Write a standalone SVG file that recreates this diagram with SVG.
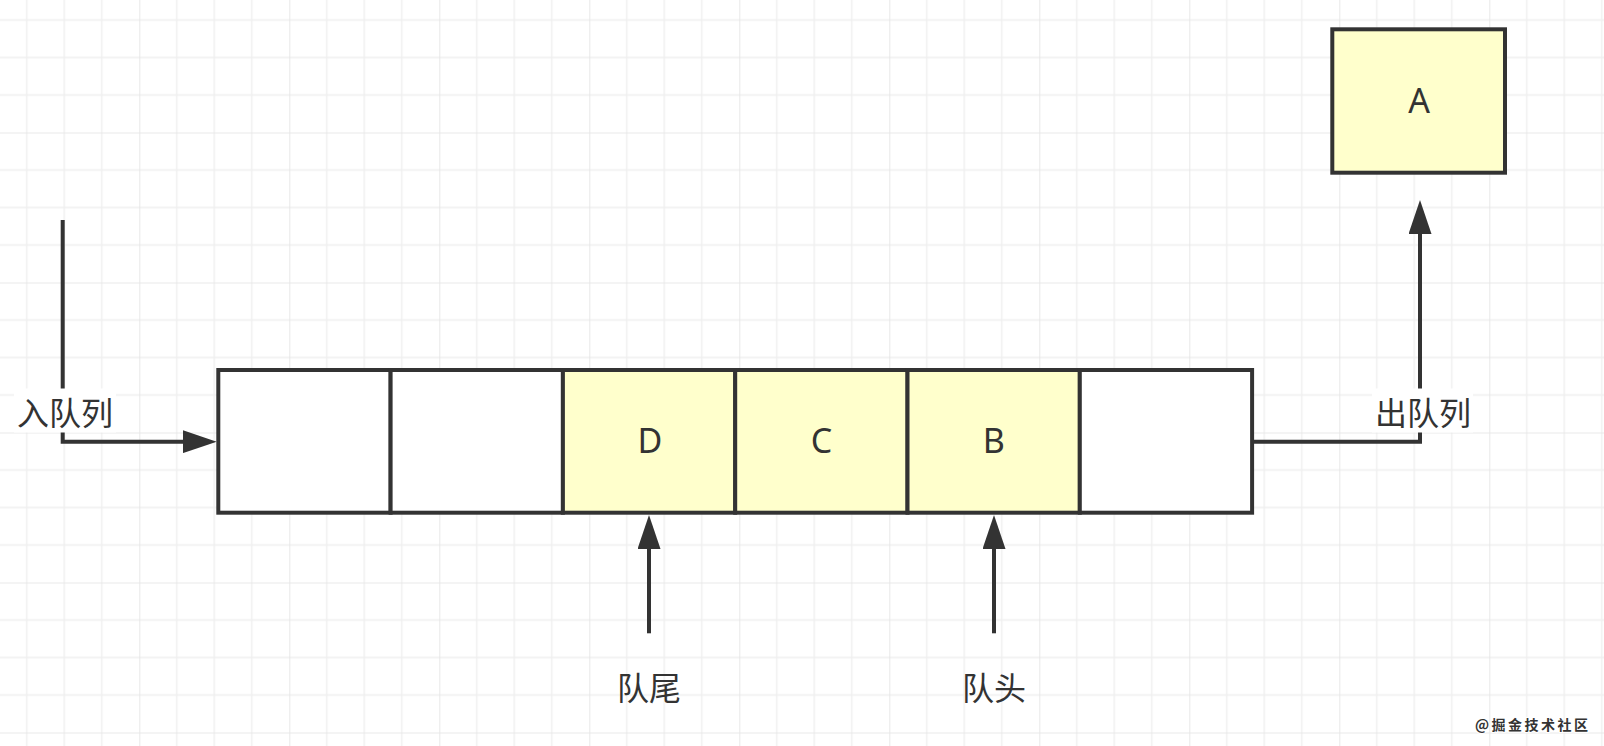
<svg xmlns="http://www.w3.org/2000/svg" width="1604" height="746" viewBox="0 0 1604 746">
  <defs>
    <pattern id="grid" patternUnits="userSpaceOnUse" x="139.3" y="132.5" width="150" height="150">
      <path d="M37.5 0V150M75 0V150M112.5 0V150M0 37.5H150M0 75H150M0 112.5H150" stroke="#efefef" stroke-width="1.4" fill="none"/>
      <path d="M0 0V150M0 0H150" stroke="#e4e4e4" stroke-width="1.7" fill="none"/>
    </pattern>
    <marker id="arrow" markerUnits="userSpaceOnUse" viewBox="0 0 34 23" refX="24" refY="11.5" markerWidth="34" markerHeight="23" orient="auto">
      <path d="M0 0L34 11.5L0 23Z" fill="#333333"/>
    </marker>
    <style>
      .cell { stroke: #333333; stroke-width: 4; }
      .empty { fill: #ffffff; }
      .filled { fill: #ffffcc; }
      .letter { font-family: "Noto Sans", "Open Sans", sans-serif; font-size: 34px; fill: #333333; text-anchor: middle; }
      .cjk { font-family: "Noto Sans CJK SC", "Noto Sans", sans-serif; font-size: 32px; fill: #333333; text-anchor: middle; dominant-baseline: central; }
      .conn { stroke: #333333; stroke-width: 4; fill: none; }
      .lblbg { fill: #ffffff; }
      .wm { font-family: "Noto Sans CJK SC", sans-serif; font-size: 14px; font-weight: bold; letter-spacing: 2.5px; fill: #333333; stroke: #ffffff; stroke-width: 2; paint-order: stroke; }
    </style>
  </defs>

  <rect x="0" y="0" width="1604" height="746" fill="#ffffff"/>
  <rect x="0" y="0" width="1604" height="746" fill="url(#grid)"/>

  <g id="connectors">
    <path class="conn" d="M62.7 220V441.7H206.7" marker-end="url(#arrow)"/>
    <path class="conn" d="M1252 441.7H1420V210" marker-end="url(#arrow)"/>
    <path class="conn" d="M649 633.3V525" marker-end="url(#arrow)"/>
    <path class="conn" d="M994 633.3V525" marker-end="url(#arrow)"/>
    <g id="label-enqueue">
      <rect class="lblbg" x="14" y="388.5" width="102" height="44"/>
      <text class="cjk" x="65" y="410.5">入队列</text>
    </g>
    <g id="label-dequeue">
      <rect class="lblbg" x="1372" y="388.5" width="101" height="44"/>
      <text class="cjk" x="1423" y="410.5">出队列</text>
    </g>
  </g>

  <g id="cell1"><rect class="cell empty" x="218.3" y="370" width="172.3" height="142.7"/></g>
  <g id="cell2"><rect class="cell empty" x="390.6" y="370" width="172.3" height="142.7"/></g>
  <g id="cellD"><rect class="cell filled" x="562.9" y="370" width="172.3" height="142.7"/><text class="letter" x="650" y="452.7">D</text></g>
  <g id="cellC"><rect class="cell filled" x="735.2" y="370" width="172.3" height="142.7"/><text class="letter" x="821.4" y="452.7">C</text></g>
  <g id="cellB"><rect class="cell filled" x="907.5" y="370" width="172.3" height="142.7"/><text class="letter" x="993.7" y="452.7">B</text></g>
  <g id="cell6"><rect class="cell empty" x="1079.8" y="370" width="172.3" height="142.7"/></g>

  <g id="nodeA"><rect class="cell filled" x="1332.3" y="29.3" width="172.7" height="143.4"/><text class="letter" x="1419" y="113.3">A</text></g>

  <g id="label-tail"><text class="cjk" x="649" y="686">队尾</text></g>
  <g id="label-head"><text class="cjk" x="994" y="686">队头</text></g>

  <g id="watermark"><text class="wm" x="1475" y="730">@掘金技术社区</text></g>
</svg>
